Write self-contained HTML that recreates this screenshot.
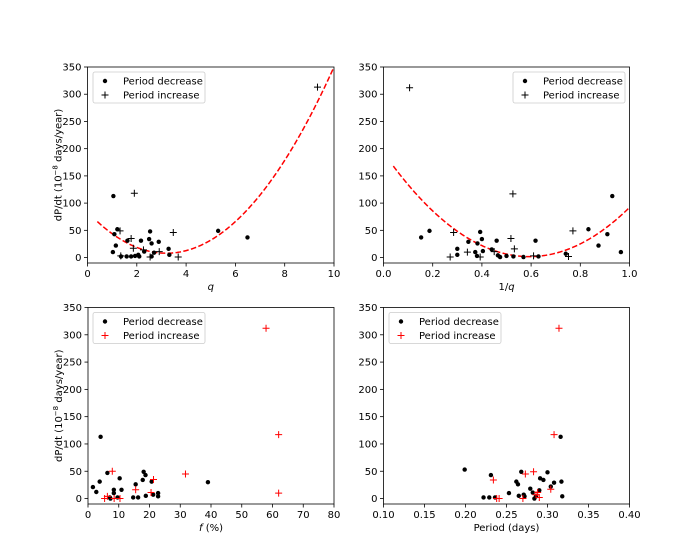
<!DOCTYPE html>
<html><head><meta charset="utf-8"><style>
body{margin:0;background:#fff;}
svg{display:block;font-family:"DejaVu Sans","Liberation Sans",sans-serif;}
</style></head><body>
<svg id="fig" width="700" height="560" viewBox="0 0 700 560"></svg>
<script>
// Panel 1: q
const q_dec_x=[1.05,1.21,1.09,1.15,1.03,1.62,1.77,1.59,1.93,2.1,2.06,2.17,2.54,2.5,2.6,2.7,2.6,2.89,3.29,3.32,5.3,6.49,2.3,1.36];
const q_dec_y=[113,52,43,22,10,31,2,2,3,2,5,31,48,34,26,9,2,29,16,5,49,37,11,2];
const q_inc_x=[1.32,1.77,1.9,1.86,1.35,2.27,2.54,2.91,3.48,3.68,9.33];
const q_inc_y=[49,35,118,17,3,14,1,11,46,1,313];
const q_fit=[7.4,3.2,8]; // a,(x0),c
// Panel 2: 1/q
const iq_dec_x=[.153,.187,.30,.30,.345,.393,.40,.382,.404,.373,.38,.44,.46,.465,.474,.50,.528,.569,.618,.63,.741,.833,.874,.91,.93,.965];
const iq_dec_y=[37,49,16,5,29,47,34,26,12,10,3,15,31,4,1,3,2,1,31,2,7,52,22,43,113,10];
const iq_inc_x=[.106,.271,.285,.341,.393,.45,.518,.526,.532,.61,.752,.77];
const iq_inc_y=[312,1,46,10,1,11,35,117,16,3,2,49];
const iq_fit=[544.2,-645.1,192.9]; // A,B,C
// Panel 3: f
const f_dec_x=[4.1,1.6,2.7,3.8,6.3,7.1,7.3,8.4,8.4,9.6,10.3,10.9,14.7,15.5,16.3,18.1,17.8,18.7,18.8,20.7,21.2,22.8,22.8,39];
const f_dec_y=[113,21,12,31,47,2,0,16,10,2,37,16,2,26,2,49,34,43,5,31,7,10,4,30];
const f_inc_x=[5.4,6.3,7.9,8.5,10.4,15.5,20.5,21.3,31.7,57.9,62,62];
const f_inc_y=[0,4,50,0,0,16,11,35,45,312,117,10];
// Panel 4: period
const p_dec_x=[.199,.222,.229,.231,.236,.253,.262,.264,.265,.268,.271,.272,.279,.282,.284,.286,.29,.291,.295,.3,.304,.308,.316,.317,.318];
const p_dec_y=[53,2,2,43,2,10,31,26,5,49,7,4,18,11,0,4,15,37,34,48,22,29,113,31,4];
const p_inc_x=[.234,.238,.241,.27,.273,.283,.286,.288,.29,.304,.308,.314];
const p_inc_y=[34,0,0,0,45,49,7,11,2,17,117,312];
const yTicks=[0,50,100,150,200,250,300,350];

const NS="http://www.w3.org/2000/svg";
const svg=document.getElementById('fig');
function mk(tag,attrs,parent){const e=document.createElementNS(NS,tag);for(const k in attrs)e.setAttribute(k,attrs[k]);(parent||svg).appendChild(e);return e;}

function panel(o){
  const g=mk('g',{});
  
  
  const L=o.L,R=o.R,T=o.T,B=o.B;
  const sx=v=>L+(v-o.xmin)/(o.xmax-o.xmin)*(R-L);
  const sy=v=>B-(v-(-10))/(360)*(B-T);
  const clip='c'+o.name;
  const cp=mk('clipPath',{id:clip},g);mk('rect',{x:L,y:T,width:R-L,height:B-T},cp);
  // fit
  if(o.fit){
    let d='';
    for(let i=0;i<=200;i++){const x=o.fit.x0+(o.fit.x1-o.fit.x0)*i/200;d+=(i?'L':'M')+sx(x).toFixed(2)+','+sy(o.fit.f(x)).toFixed(2);}
    const p=mk('path',{d:d,fill:'none',stroke:'#ff0000','stroke-width':1.5,'stroke-dasharray':'5.5,2.4','clip-path':'url(#'+clip+')'},g);
    
    
  }
  o.dx.forEach((x,i)=>{const c=mk('circle',{cx:sx(x),cy:sy(o.dy[i]),r:2.2,fill:'#000'},g);
    
    });
  o.ix.forEach((x,i)=>{const X=sx(x),Y=sy(o.iy[i]);
    const p=mk('path',{d:`M${X-3.5},${Y}H${X+3.5}M${X},${Y-3.5}V${Y+3.5}`,stroke:o.pc,'stroke-width':1},g);
    
    });
  const fr=mk('rect',{x:L,y:T,width:R-L,height:B-T,fill:'none',stroke:'#000','stroke-width':0.8},g);
  
  
  o.xt.forEach((t,i)=>{const X=sx(t);mk('line',{x1:X,x2:X,y1:B,y2:B+3.5,stroke:'#000','stroke-width':0.8},g);
    const tx=mk('text',{x:X,y:B+14,'font-size':10,'text-anchor':'middle'},g);tx.textContent=o.xl[i];
    
    });
  yTicks.forEach(t=>{const Y=sy(t);mk('line',{x1:L,x2:L-3.5,y1:Y,y2:Y,stroke:'#000','stroke-width':0.8},g);
    const tx=mk('text',{x:L-6,y:Y+3.5,'font-size':10,'text-anchor':'end'},g);tx.textContent=t;
    
    });
  const xt=mk('text',{x:(L+R)/2,y:B+27,'font-size':10,'text-anchor':'middle'},g);
  xt.innerHTML=o.xlabel;
  
  
  if(o.ylab){
    const yt=mk('text',{x:0,y:0,'font-size':10,'text-anchor':'middle',transform:`translate(${L-26},${(T+B)/2}) rotate(-90)`},g);
    yt.innerHTML='dP/dt (10<tspan dy="-4" font-size="7">−8</tspan><tspan dy="4"> days/year)</tspan>';
    
    
  }
  const lg=mk('g',{},g);
  
  
  mk('rect',{x:o.lx,y:T+5,width:112,height:31,rx:2,fill:'#fff',stroke:'#ccc','stroke-width':0.8},lg);
  mk('circle',{cx:o.lx+12,cy:T+14,r:2.2,fill:'#000'},lg);
  const t1=mk('text',{x:o.lx+30,y:T+17.5,'font-size':10},lg);t1.textContent='Period decrease';
  const X=o.lx+12,Y=T+28;
  mk('path',{d:`M${X-3.5},${Y}H${X+3.5}M${X},${Y-3.5}V${Y+3.5}`,stroke:o.pc,'stroke-width':1},lg);
  const t2=mk('text',{x:o.lx+30,y:T+31.5,'font-size':10},lg);t2.textContent='Period increase';
}
panel({name:'panel-q',L:87.5,R:334,T:67,B:263,xmin:0,xmax:10,xt:[0,2,4,6,8,10],xl:['0','2','4','6','8','10'],
  xlabel:'<tspan font-style="italic">q</tspan>',ylab:true,dx:q_dec_x,dy:q_dec_y,ix:q_inc_x,iy:q_inc_y,pc:'#000',lx:93,
  fit:{x0:0.4,x1:10.5,f:x=>q_fit[0]*(x-q_fit[1])**2+q_fit[2]}});
panel({name:'panel-inverse-q',L:383.5,R:629.5,T:67,B:263,xmin:0,xmax:1,xt:[0,.2,.4,.6,.8,1],xl:['0.0','0.2','0.4','0.6','0.8','1.0'],
  xlabel:'1/<tspan font-style="italic">q</tspan>',ylab:false,dx:iq_dec_x,dy:iq_dec_y,ix:iq_inc_x,iy:iq_inc_y,pc:'#000',lx:513,
  fit:{x0:0.04,x1:1,f:x=>iq_fit[0]*x*x+iq_fit[1]*x+iq_fit[2]}});
panel({name:'panel-fill-factor',L:88,R:334,T:307.5,B:504,xmin:0,xmax:80,xt:[0,10,20,30,40,50,60,70,80],xl:['0','10','20','30','40','50','60','70','80'],
  xlabel:'<tspan font-style="italic">f</tspan> (%)',ylab:true,dx:f_dec_x,dy:f_dec_y,ix:f_inc_x,iy:f_inc_y,pc:'#ff0000',lx:93});
panel({name:'panel-period',L:383.5,R:629.5,T:307.5,B:504,xmin:0.1,xmax:0.4,xt:[.1,.15,.2,.25,.3,.35,.4],xl:['0.10','0.15','0.20','0.25','0.30','0.35','0.40'],
  xlabel:'Period (days)',ylab:false,dx:p_dec_x,dy:p_dec_y,ix:p_inc_x,iy:p_inc_y,pc:'#ff0000',lx:389});
</script>
</body></html>
